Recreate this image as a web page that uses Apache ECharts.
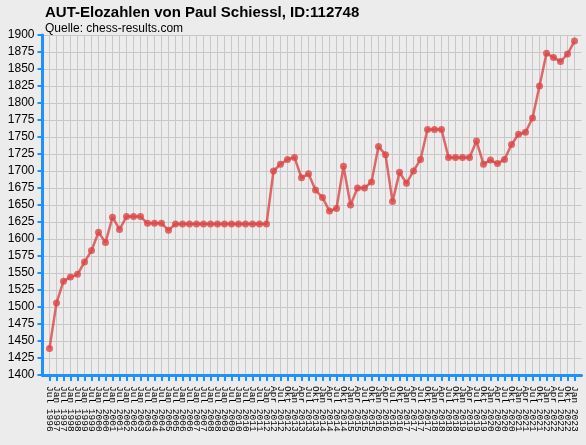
<!DOCTYPE html>
<html>
<head>
<meta charset="utf-8">
<script src="https://cdn.jsdelivr.net/npm/echarts@6/dist/echarts.min.js"></script>
<style>
html,body{margin:0;padding:0;background:#ececec;}
#chart{width:586px;height:445px;}
</style>
</head>
<body>
<div id="chart"></div>
<script>
const titleText = 'AUT-Elozahlen von Paul Schiessl, ID:112748';
const subTitleText = 'Quelle: chess-results.com';

const categories = [
  'Jul 1996','Jan 1997','Jul 1997','Jan 1998','Jul 1998','Jan 1999','Jul 1999','Jan 2000',
  'Jul 2000','Jan 2001','Jul 2001','Jan 2002','Jul 2002','Jan 2003','Jul 2003','Jan 2004',
  'Jul 2004','Jan 2005','Jul 2005','Jan 2006','Jul 2006','Jan 2007','Jul 2007','Jan 2008',
  'Jul 2008','Jan 2009','Jul 2009','Jan 2010','Jul 2010','Jan 2011','Jul 2011','Jan 2012',
  'Apr 2012','Jul 2012','Okt 2012','Jan 2013','Apr 2013','Jul 2013','Okt 2013','Jan 2014',
  'Apr 2014','Jul 2014','Okt 2014','Jan 2015','Apr 2015','Jul 2015','Okt 2015','Jan 2016',
  'Apr 2016','Jul 2016','Okt 2016','Jan 2017','Apr 2017','Jul 2017','Okt 2017','Jan 2018',
  'Apr 2018','Jul 2018','Okt 2018','Jan 2019','Apr 2019','Jul 2019','Okt 2019','Jan 2020',
  'Apr 2020','Jul 2020','Okt 2020','Jan 2021','Apr 2021','Jul 2021','Okt 2021','Jan 2022',
  'Apr 2022','Jul 2022','Okt 2022','Jan 2023'
];

const elo = [
  1439,1506,1538,1544,1548,1566,1583,1610,1595,1632,1614,1633,1633,1633,1623,1623,
  1623,1613,1622,1622,1622,1622,1622,1622,1622,1622,1622,1622,1622,1622,1622,1622,
  1700,1710,1717,1720,1690,1696,1672,1661,1641,1645,1707,1650,1675,1675,1684,1736,
  1724,1655,1698,1682,1700,1717,1761,1761,1761,1720,1720,1720,1720,1744,1710,1716,
  1711,1717,1739,1754,1757,1778,1825,1873,1867,1861,1872,1891
];

const yMin = 1400, yMax = 1900, yStep = 25;

// padding categories at both ends so the axis frame sits half a step outside the first/last point
const axisCats = [''].concat(categories, ['']);
const seriesData = [null].concat(elo, [null]);
const lastIdx = axisCats.length - 1;

const blue = '#1e90ff';
const font = '"Liberation Sans", Arial, sans-serif';
const monoFont = '"Liberation Mono", "DejaVu Sans Mono", monospace';

const chart = echarts.init(document.getElementById('chart'), null, {renderer: 'canvas'});
chart.setOption({
  backgroundColor: '#ececec',
  animation: false,
  title: [
    {text: titleText, left: 40, top: 0,
     textStyle: {fontSize: 15, fontWeight: 'bold', color: '#000', fontFamily: font}},
    {text: subTitleText, left: 40, top: 18,
     textStyle: {fontSize: 12, fontWeight: 'normal', color: '#000', fontFamily: font}}
  ],
  grid: {left: 42.5, right: 4.5, top: 35, bottom: 70, containLabel: false},
  xAxis: {
    type: 'category',
    data: axisCats,
    boundaryGap: false,
    axisLine: {show: true, onZero: false, lineStyle: {color: blue, width: 3}},
    axisTick: {show: true, length: 6, lineStyle: {color: blue, width: 2},
      interval: function (i) { return i > 0 && i < lastIdx; }},
    axisLabel: {show: true, rotate: -90, interval: 0, margin: 11, fontSize: 9.5,
      color: '#000', fontFamily: monoFont, hideOverlap: false},
    splitLine: {show: true, lineStyle: {color: '#c8c8c8', width: 1},
      interval: function (i) { return i < lastIdx; }}
  },
  yAxis: {
    type: 'value',
    min: yMin, max: yMax, interval: yStep,
    axisLine: {show: true, lineStyle: {color: blue, width: 3}},
    axisTick: {show: true, length: 5, lineStyle: {color: blue, width: 2}},
    axisLabel: {margin: 8, fontSize: 12, color: '#000', fontFamily: font,
      formatter: function (v) { return String(v); }},
    splitLine: {show: true, lineStyle: {color: '#c8c8c8', width: 1}}
  },
  series: [{
    type: 'line',
    data: seriesData,
    connectNulls: false,
    symbol: 'circle',
    symbolSize: 7,
    showAllSymbol: true,
    lineStyle: {color: 'rgba(220,70,70,0.8)', width: 2.5},
    itemStyle: {color: 'rgba(220,70,70,0.8)'}
  }]
});
</script>
</body>
</html>
